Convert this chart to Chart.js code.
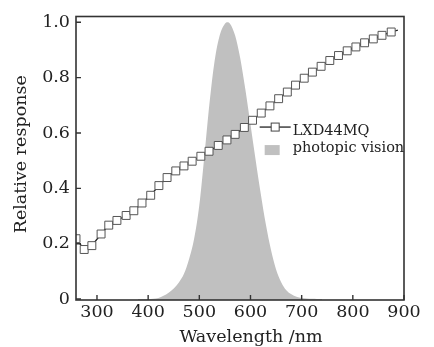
<!DOCTYPE html>
<html>
<head>
<meta charset="utf-8">
<script src="https://cdn.jsdelivr.net/npm/chart.js@4/dist/chart.umd.min.js"></script>
<style>
html,body{margin:0;padding:0;background:#fff;}
#wrap{width:434px;height:347px;position:relative;}
</style>
</head>
<body>
<div id="wrap"><canvas id="c" width="434" height="347"></canvas></div>
<script>
// ---- data ----
const sensorWavelengths = [259, 275, 290, 308, 323, 339, 357, 372, 388, 405, 421, 437, 454, 470, 486, 503, 519, 537, 554, 570, 588, 604, 621, 638, 655, 672, 688, 705, 721, 738, 755, 772, 789, 806, 823, 840, 857, 875, 888];
const sensorResponse = [0.218, 0.179, 0.193, 0.235, 0.267, 0.284, 0.302, 0.319, 0.347, 0.375, 0.410, 0.439, 0.463, 0.481, 0.498, 0.516, 0.534, 0.555, 0.575, 0.595, 0.620, 0.646, 0.672, 0.698, 0.724, 0.748, 0.773, 0.798, 0.820, 0.841, 0.862, 0.880, 0.897, 0.911, 0.926, 0.940, 0.953, 0.965, 0.972];
const photopicWavelengths = [380, 390, 400, 410, 420, 430, 440, 450, 460, 470, 480, 490, 500, 510, 520, 530, 540, 550, 555, 560, 570, 580, 590, 600, 610, 620, 630, 640, 650, 660, 670, 680, 690, 700, 710, 720, 730, 740];
const photopicResponse = [0.0001, 0.0002, 0.0004, 0.0012, 0.004, 0.0116, 0.023, 0.038, 0.06, 0.091, 0.145, 0.22, 0.34, 0.52, 0.71, 0.862, 0.954, 0.995, 1.0, 0.995, 0.952, 0.87, 0.757, 0.631, 0.503, 0.381, 0.27, 0.178, 0.107, 0.061, 0.032, 0.017, 0.0082, 0.0041, 0.0021, 0.001, 0.0005, 0.0003];
const xTicks = [300, 400, 500, 600, 700, 800, 900];
const yTicks = [0, 0.2, 0.4, 0.6, 0.8, 1.0];
const seriesNames = ['LXD44MQ', 'photopic vision'];
const axisTitles = {x: 'Wavelength /nm', y: 'Relative response'};

const FONT = "'DejaVu Serif', serif";
const frameColor = '#333';
const textColor = '#222';

const sensorPoints = sensorWavelengths.map((w, i) => ({x: w, y: sensorResponse[i]}));
const photopicPoints = photopicWavelengths.map((w, i) => ({x: w, y: photopicResponse[i]}));
const markerRadius = sensorWavelengths.map((w, i) => i === sensorWavelengths.length - 1 ? 0 : 5.6);

const framePlugin = {
  id: 'frame',
  afterDraw(chart) {
    const ctx = chart.ctx, a = chart.chartArea;
    const xs = chart.scales.x, ys = chart.scales.y;
    ctx.save();
    ctx.strokeStyle = frameColor;
    ctx.lineWidth = 1.6;
    ctx.strokeRect(a.left, a.top, a.right - a.left, a.bottom - a.top);
    ctx.lineWidth = 1.4;
    ctx.beginPath();
    xTicks.forEach(v => { const p = xs.getPixelForValue(v); ctx.moveTo(p, a.bottom); ctx.lineTo(p, a.bottom - 5); });
    yTicks.forEach(v => { const p = ys.getPixelForValue(v); ctx.moveTo(a.left, p); ctx.lineTo(a.left + 5, p); });
    ctx.stroke();

    // axis titles
    ctx.fillStyle = textColor;
    ctx.font = "17.5px " + FONT;
    ctx.textAlign = 'center';
    ctx.textBaseline = 'alphabetic';
    ctx.fillText(axisTitles.x, (a.left + a.right) / 2 + 11, chart.height - 5);
    ctx.save();
    ctx.translate(21, (a.top + a.bottom) / 2 - 4);
    ctx.rotate(-Math.PI / 2);
    ctx.textBaseline = 'middle';
    ctx.fillText(axisTitles.y, 0, 0);
    ctx.restore();

    // legend
    const lx = a.left + (a.right - a.left) * 0.56;
    const ly = a.top + (a.bottom - a.top) * 0.39;
    ctx.strokeStyle = '#222';
    ctx.lineWidth = 1.3;
    ctx.beginPath(); ctx.moveTo(lx, ly); ctx.lineTo(lx + 31, ly); ctx.stroke();
    ctx.fillStyle = '#fff';
    ctx.strokeStyle = '#444';
    ctx.lineWidth = 1;
    ctx.fillRect(lx + 11.5, ly - 4, 8, 8);
    ctx.strokeRect(lx + 11.5, ly - 4, 8, 8);
    ctx.fillStyle = '#c0c0c0';
    ctx.fillRect(lx + 5, ly + 18, 15, 10);
    ctx.fillStyle = textColor;
    ctx.font = "14.5px " + FONT;
    ctx.textBaseline = 'middle';
    ctx.textAlign = 'left';
    ctx.fillText(seriesNames[0], lx + 33, ly + 4);
    ctx.fillText(seriesNames[1], lx + 33, ly + 21);
    ctx.restore();
  }
};

new Chart(document.getElementById('c'), {
  type: 'line',
  data: {
    datasets: [
      {
        label: seriesNames[0],
        data: sensorPoints,
        borderColor: '#222',
        borderWidth: 1.3,
        pointStyle: 'rect',
        pointRadius: markerRadius,
        pointBackgroundColor: '#fff',
        pointBorderColor: '#555',
        pointBorderWidth: 1,
        tension: 0,
        fill: false,
        order: 0
      },
      {
        label: seriesNames[1],
        data: photopicPoints,
        borderWidth: 0,
        borderColor: 'rgba(0,0,0,0)',
        backgroundColor: '#c0c0c0',
        pointRadius: 0,
        cubicInterpolationMode: 'monotone',
        fill: 'start',
        order: 1
      }
    ]
  },
  options: {
    responsive: false,
    animation: false,
    devicePixelRatio: 1,
    layout: {padding: {left: 0, right: 30, top: 8, bottom: 0}},
    plugins: {legend: {display: false}, tooltip: {enabled: false}},
    scales: {
      x: {
        type: 'linear',
        min: 259, max: 900,
        afterBuildTicks: s => { s.ticks = xTicks.map(v => ({value: v})); },
        afterFit: s => { s.height = 47; },
        grid: {display: false, drawTicks: false},
        border: {display: false},
        ticks: {color: textColor, font: {family: FONT, size: 17.5}, padding: 2, maxRotation: 0,
                callback: v => String(v)},
        title: {display: false}
      },
      y: {
        type: 'linear',
        min: -0.0035, max: 1.021,
        afterBuildTicks: s => { s.ticks = yTicks.map(v => ({value: v})); },
        afterFit: s => { s.width = 76; },
        grid: {display: false, drawTicks: false},
        border: {display: false},
        ticks: {color: textColor, font: {family: FONT, size: 17.5}, padding: 6,
                callback: v => v === 0 ? '0' : v.toFixed(1)},
        title: {display: false}
      }
    }
  },
  plugins: [framePlugin]
});
</script>
</body>
</html>
